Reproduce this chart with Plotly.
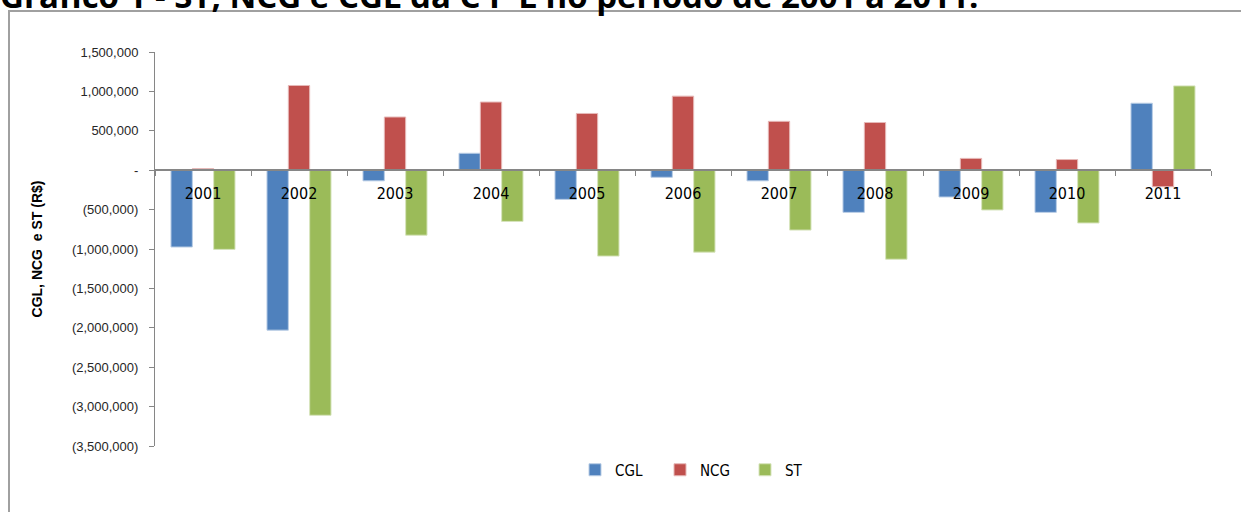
import plotly.graph_objects as go

years = ["2001", "2002", "2003", "2004", "2005", "2006", "2007", "2008", "2009", "2010", "2011"]
cgl = [-975000, -2030000, -135000, 215000, -370000, -90000, -135000, -535000, -340000, -535000, 850000]
ncg = [20000, 1075000, 675000, 865000, 720000, 940000, 620000, 605000, 150000, 135000, -210000]
st = [-1005000, -3110000, -825000, -650000, -1090000, -1040000, -760000, -1130000, -505000, -670000, 1070000]

y_tickvals = [1500000, 1000000, 500000, 0, -500000, -1000000, -1500000, -2000000, -2500000, -3000000, -3500000]
y_ticktext = ["1,500,000", "1,000,000", "500,000", "-", "(500,000)", "(1,000,000)", "(1,500,000)",
              "(2,000,000)", "(2,500,000)", "(3,000,000)", "(3,500,000)"]

title_text = "Gráfico 1 - ST, NCG e CGL da C P L no período de 2001 a 2011."
y_title = "CGL, NCG  e ST (R$)"

W, H = 1241, 512
ML, MR, MT, MB = 155, 30, 52, 66
ymin, ymax = -3500000, 1500000
pw, ph = W - ML - MR, H - MT - MB

def px_x(p):
    return (p - ML) / pw

def px_y(p):
    return (H - MB - p) / ph

narrow = "DejaVu Sans Condensed, Liberation Sans Narrow, Liberation Sans, sans-serif"

fig = go.Figure()
series = [("CGL", cgl, "#4F81BD", "#B9CDE5"),
          ("NCG", ncg, "#C0504D", "#E6B9B8"),
          ("ST", st, "#9BBB59", "#D7E4BD")]
for name, vals, col, edge in series:
    fig.add_trace(go.Bar(x=years, y=vals, name=name,
                         marker=dict(color=col, line=dict(color=edge, width=1))))

zero_pos = (0 - ymin) / (ymax - ymin)

fig.update_layout(
    width=W, height=H,
    margin=dict(l=ML, r=MR, t=MT, b=MB),
    paper_bgcolor="white", plot_bgcolor="white",
    barmode="group", bargap=0.333, bargroupgap=0,
    showlegend=True,
    legend=dict(orientation="h", x=px_x(575), xanchor="left", y=px_y(470), yanchor="middle",
                font=dict(family=narrow, size=15, color="#000000"),
                itemwidth=30, entrywidth=40, traceorder="normal"),
    xaxis=dict(type="category", anchor="free", position=zero_pos,
               showline=True, linecolor="#868686", linewidth=2,
               ticks="outside", tickson="boundaries", ticklen=5, tickcolor="#868686", tickwidth=1,
               ticklabelstandoff=9,
               tickfont=dict(family=narrow, size=16, color="#000000"),
               showgrid=False, zeroline=False, automargin=False, fixedrange=True),
    yaxis=dict(range=[ymin, ymax], tickvals=y_tickvals, ticktext=y_ticktext,
               showline=True, linecolor="#868686", linewidth=1,
               ticks="outside", ticklen=5, tickcolor="#868686",
               ticklabelstandoff=8,
               tickfont=dict(family="Liberation Sans, Arial, sans-serif", size=13, color="#262626"),
               title=dict(text="<b>" + y_title + "</b>", standoff=26,
                          font=dict(family="Liberation Sans, Arial, sans-serif", size=14, color="#000000")),
               showgrid=False, zeroline=False, automargin=False),
    shapes=[dict(type="rect", xref="paper", yref="paper",
                 x0=px_x(9), x1=px_x(1260), y0=px_y(540), y1=px_y(11),
                 line=dict(color="#A0A0A0", width=2), fillcolor="rgba(0,0,0,0)", layer="below")],
    annotations=[dict(text="<b>" + title_text + "</b>", xref="paper", yref="paper",
                      x=px_x(-2), xanchor="left", y=px_y(20), yanchor="bottom", showarrow=False,
                      font=dict(family="Open Sans, Noto Sans, sans-serif", size=33, color="#000000"))],
)

fig.write_html("out.html")
